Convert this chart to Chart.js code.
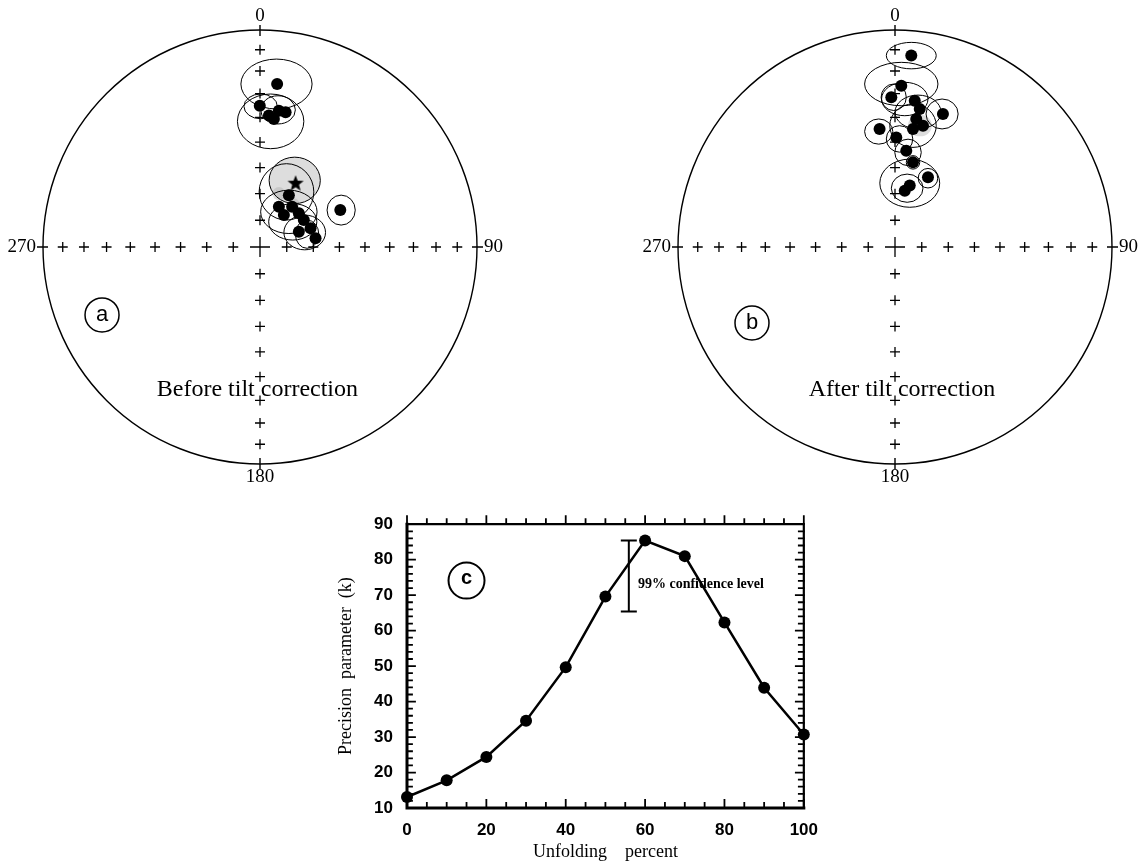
<!DOCTYPE html>
<html>
<head>
<meta charset="utf-8">
<script src="https://cdn.jsdelivr.net/npm/chart.js@4.4.0/dist/chart.umd.min.js"></script>
<style>
  html, body { margin: 0; padding: 0; background: #fff; }
  body { width: 1147px; height: 864px; position: relative; overflow: hidden; }
  canvas { position: absolute; }
  #netA { left: 0; top: 0; }
  #netB { left: 560px; top: 0; }
  #foldC { left: 330px; top: 500px; }
</style>
</head>
<body>
<canvas id="netA" width="545" height="490"></canvas>
<canvas id="netB" width="587" height="490"></canvas>
<canvas id="foldC" width="500" height="364"></canvas>
<script>
// ---- data ----
// crosses along the N-S / E-W axes, every 10 degrees of inclination
const gridInclinations = [10, 20, 30, 40, 50, 60, 70, 80];

// (a) before tilt correction: site means in equal-area net units (primitive = 1)
const siteAX = [0.079, -0.001, 0.041, 0.087, 0.064, 0.118, 0.133, 0.087, 0.148, 0.110, 0.179, 0.202, 0.233, 0.179, 0.256, 0.370];
const siteAY = [0.751, 0.651, 0.606, 0.628, 0.590, 0.621, 0.239, 0.185, 0.185, 0.147, 0.155, 0.124, 0.086, 0.070, 0.040, 0.170];
const meanA = [0.164, 0.292];
// alpha95 ovals: [x, y, rx, ry]
const ovalsA = [
  [0.076, 0.751, 0.164, 0.115],
  [0.049, 0.579, 0.153, 0.126],
  [0.003, 0.648, 0.077, 0.057],
  [0.083, 0.632, 0.080, 0.065],
  [0.160, 0.307, 0.118, 0.107],
  [0.122, 0.254, 0.126, 0.130],
  [0.133, 0.162, 0.130, 0.100],
  [0.151, 0.116, 0.111, 0.084],
  [0.206, 0.067, 0.096, 0.080],
  [0.217, 0.059, 0.054, 0.065],
  [0.374, 0.170, 0.065, 0.069]
];
const shadedA = [
  [0.160, 0.307, 0.118, 0.107],
  [0.087, 0.246, 0.030, 0.030],
  [0.156, 0.200, 0.025, 0.025]
];

// (b) after tilt correction
const siteBX = [0.075, 0.029, -0.017, 0.091, 0.114, 0.098, 0.129, 0.083, 0.221, -0.071, 0.006, 0.052, 0.083, 0.152, 0.068, 0.045];
const siteBY = [0.882, 0.743, 0.690, 0.674, 0.636, 0.590, 0.559, 0.544, 0.613, 0.544, 0.505, 0.444, 0.390, 0.321, 0.283, 0.259];
const ovalsB = [
  [0.075, 0.882, 0.115, 0.061],
  [0.029, 0.751, 0.169, 0.100],
  [0.045, 0.682, 0.107, 0.077],
  [-0.006, 0.690, 0.058, 0.061],
  [0.106, 0.622, 0.106, 0.078],
  [0.217, 0.613, 0.074, 0.069],
  [0.083, 0.559, 0.107, 0.100],
  [-0.075, 0.532, 0.065, 0.058],
  [0.021, 0.498, 0.061, 0.061],
  [0.060, 0.436, 0.061, 0.061],
  [0.083, 0.390, 0.031, 0.031],
  [0.068, 0.294, 0.138, 0.111],
  [0.056, 0.271, 0.073, 0.065],
  [0.152, 0.317, 0.045, 0.045]
];
const shadedB = [[0.115, 0.560, 0.055, 0.050]];

// (c) fold test
const unfoldingPercent = [0, 10, 20, 30, 40, 50, 60, 70, 80, 90, 100];
const precisionK = [13.1, 17.8, 24.4, 34.6, 49.7, 69.6, 85.4, 81.0, 62.3, 43.9, 30.7];
const confidenceX = 55.9;
const confidenceRange = [65.4, 85.4];

const SERIF = "'Liberation Serif', 'Times New Roman', serif";
const SANS = "'Liberation Sans', Arial, sans-serif";
Chart.defaults.color = '#000';

// equal-area (Schmidt) radial distance for an inclination
function equalArea(inc) {
  return Math.SQRT2 * Math.sin((90 - inc) / 2 * Math.PI / 180);
}

// filled five-point star used for the overall mean
const starImage = document.createElement('canvas');
starImage.width = 18; starImage.height = 18;
(function () {
  var c = starImage.getContext('2d');
  c.beginPath();
  for (var i = 0; i < 10; i++) {
    var r = i % 2 ? 3.6 : 8.5;
    var a = -Math.PI / 2 + i * Math.PI / 5;
    c.lineTo(9 + r * Math.cos(a), 9 + r * Math.sin(a));
  }
  c.closePath();
  c.fillStyle = '#000';
  c.fill();
})();

function netPlugin(cfg) {
  return {
    id: 'stereonet',
    beforeDatasetsDraw: function (chart) {
      var ctx = chart.ctx, xs = chart.scales.x, ys = chart.scales.y;
      var px = function (v) { return xs.getPixelForValue(v); };
      var py = function (v) { return ys.getPixelForValue(v); };
      var sx = px(1) - px(0), sy = py(0) - py(1);
      var ox = px(0), oy = py(0);
      ctx.save();
      ctx.strokeStyle = '#000';

      // primitive circle
      ctx.lineWidth = 1.4;
      ctx.beginPath();
      ctx.ellipse(ox, oy, sx, sy, 0, 0, 2 * Math.PI);
      ctx.stroke();

      // cardinal ticks
      ctx.beginPath();
      ctx.moveTo(ox, py(1) - 5); ctx.lineTo(ox, py(1) + 6);
      ctx.moveTo(ox, py(-1) - 6); ctx.lineTo(ox, py(-1) + 5);
      ctx.moveTo(px(-1) - 6, oy); ctx.lineTo(px(-1) + 5, oy);
      ctx.moveTo(px(1) - 5, oy); ctx.lineTo(px(1) + 6, oy);
      ctx.stroke();

      // shaded (stippled) confidence areas
      ctx.fillStyle = 'rgba(170,170,170,0.4)';
      cfg.shaded.forEach(function (o) {
        ctx.beginPath();
        ctx.ellipse(px(o[0]), py(o[1]), o[2] * sx, o[3] * sy, 0, 0, 2 * Math.PI);
        ctx.fill();
      });

      // alpha95 ovals
      ctx.lineWidth = 1;
      cfg.ovals.forEach(function (o) {
        ctx.beginPath();
        ctx.ellipse(px(o[0]), py(o[1]), o[2] * sx, o[3] * sy, 0, 0, 2 * Math.PI);
        ctx.stroke();
      });

      // azimuth labels
      ctx.fillStyle = '#000';
      ctx.font = '19px ' + SERIF;
      ctx.textAlign = 'center';
      ctx.textBaseline = 'middle';
      ctx.fillText('0', ox, py(1) - 14);
      ctx.fillText('180', ox, py(-1) + 13);
      ctx.textAlign = 'left';
      ctx.fillText('90', px(1) + 7, oy);
      ctx.textAlign = 'right';
      ctx.fillText('270', px(-1) - 7, oy);

      // panel letter
      var lx = px(cfg.letterAt[0]), ly = py(cfg.letterAt[1]);
      ctx.lineWidth = 1.5;
      ctx.beginPath();
      ctx.arc(lx, ly, 17, 0, 2 * Math.PI);
      ctx.stroke();
      ctx.textAlign = 'center';
      ctx.font = '22px ' + SANS;
      ctx.fillText(cfg.letter, lx, ly);

      // caption
      ctx.font = '24px ' + SERIF;
      ctx.fillText(cfg.caption, px(cfg.captionAt[0]), py(cfg.captionAt[1]));
      ctx.restore();
    }
  };
}

function makeNet(canvasId, geom, cfg) {
  var canvas = document.getElementById(canvasId);
  var W = canvas.width, H = canvas.height;
  var crosses = [];
  gridInclinations.forEach(function (inc) {
    var r = equalArea(inc);
    crosses.push({ x: 0, y: r }, { x: 0, y: -r }, { x: r, y: 0 }, { x: -r, y: 0 });
  });
  var sites = cfg.siteX.map(function (x, i) { return { x: x, y: cfg.siteY[i] }; });
  var datasets = [
    { data: crosses, pointStyle: 'cross', pointRadius: 5, borderColor: '#000', borderWidth: 1.3 },
    { data: [{ x: 0, y: 0 }], pointStyle: 'cross', pointRadius: 10, borderColor: '#000', borderWidth: 1.3 },
    { data: sites, pointStyle: 'circle', pointRadius: 6, backgroundColor: '#000', borderColor: '#000', borderWidth: 0 }
  ];
  if (cfg.mean) {
    datasets.push({ data: [{ x: cfg.mean[0], y: cfg.mean[1] }], pointStyle: starImage, pointRadius: 8 });
  }
  return new Chart(canvas, {
    type: 'scatter',
    data: { datasets: datasets },
    options: {
      responsive: false,
      animation: false,
      events: [],
      layout: { padding: 0, autoPadding: false },
      plugins: { legend: { display: false }, tooltip: { enabled: false } },
      scales: {
        x: { type: 'linear', display: false, min: -geom.cx / geom.r, max: (W - geom.cx) / geom.r },
        y: { type: 'linear', display: false, min: -(H - geom.cy) / geom.r, max: geom.cy / geom.r }
      }
    },
    plugins: [netPlugin(cfg)]
  });
}

makeNet('netA', { cx: 260, cy: 247, r: 217 }, {
  siteX: siteAX, siteY: siteAY, mean: meanA, ovals: ovalsA, shaded: shadedA,
  letter: 'a', letterAt: [-0.728, -0.313],
  caption: 'Before tilt correction', captionAt: [-0.012, -0.659]
});

makeNet('netB', { cx: 335, cy: 247, r: 217 }, {
  siteX: siteBX, siteY: siteBY, mean: null, ovals: ovalsB, shaded: shadedB,
  letter: 'b', letterAt: [-0.659, -0.350],
  caption: 'After tilt correction', captionAt: [0.032, -0.659]
});

// ---- (c) precision parameter vs unfolding ----
var foldPlugin = {
  id: 'foldFrame',
  beforeDatasetsDraw: function (chart) {
    var ctx = chart.ctx, a = chart.chartArea, xs = chart.scales.x, ys = chart.scales.y;
    ctx.save();
    ctx.strokeStyle = '#000';
    ctx.lineCap = 'square';
    // frame
    ctx.lineWidth = 3;
    ctx.beginPath();
    ctx.moveTo(a.left, a.top); ctx.lineTo(a.left, a.bottom); ctx.lineTo(a.right, a.bottom);
    ctx.stroke();
    ctx.lineWidth = 2.2;
    ctx.beginPath();
    ctx.moveTo(a.left, a.top); ctx.lineTo(a.right, a.top); ctx.lineTo(a.right, a.bottom);
    ctx.stroke();
    // minor / major ticks
    ctx.lineWidth = 1.8;
    ctx.beginPath();
    for (var v = 0; v <= 100; v += 5) {
      var x = xs.getPixelForValue(v), len = v % 20 === 0 ? 8 : 5;
      ctx.moveTo(x, a.bottom); ctx.lineTo(x, a.bottom - len);
      ctx.moveTo(x, a.top); ctx.lineTo(x, a.top - len);
    }
    for (var w = 10; w <= 90; w += 2) {
      var y = ys.getPixelForValue(w), ln = w % 10 === 0 ? 8 : 5;
      ctx.moveTo(a.left, y); ctx.lineTo(a.left + ln, y);
      ctx.moveTo(a.right, y); ctx.lineTo(a.right - ln, y);
    }
    ctx.stroke();
    // 99% confidence bar
    var ex = xs.getPixelForValue(confidenceX);
    var e0 = ys.getPixelForValue(confidenceRange[0]), e1 = ys.getPixelForValue(confidenceRange[1]);
    ctx.lineWidth = 2;
    ctx.lineCap = 'butt';
    ctx.beginPath();
    ctx.moveTo(ex, e0); ctx.lineTo(ex, e1);
    ctx.moveTo(ex - 8, e0); ctx.lineTo(ex + 8, e0);
    ctx.moveTo(ex - 8, e1); ctx.lineTo(ex + 8, e1);
    ctx.stroke();
    ctx.fillStyle = '#000';
    ctx.font = 'bold 14px ' + SERIF;
    ctx.textAlign = 'left';
    ctx.textBaseline = 'middle';
    ctx.fillText('99% confidence level', xs.getPixelForValue(58.2), ys.getPixelForValue(72.9));
    // panel letter
    var cx = xs.getPixelForValue(15), cy = ys.getPixelForValue(74.1);
    ctx.lineWidth = 2;
    ctx.beginPath();
    ctx.arc(cx, cy, 18, 0, 2 * Math.PI);
    ctx.stroke();
    ctx.textAlign = 'center';
    ctx.font = 'bold 20px ' + SANS;
    ctx.fillText('c', cx, cy - 2);
    ctx.restore();
  }
};

new Chart(document.getElementById('foldC'), {
  type: 'line',
  data: {
    datasets: [{
      data: unfoldingPercent.map(function (x, i) { return { x: x, y: precisionK[i] }; }),
      borderColor: '#000',
      borderWidth: 2.5,
      pointRadius: 6,
      pointBackgroundColor: '#000',
      pointBorderWidth: 0,
      tension: 0,
      clip: false
    }]
  },
  options: {
    responsive: false,
    animation: false,
    events: [],
    layout: { padding: { top: 19, right: 17, left: 0, bottom: 0 }, autoPadding: false },
    plugins: { legend: { display: false }, tooltip: { enabled: false } },
    scales: {
      x: {
        type: 'linear', min: 0, max: 100,
        afterFit: function (s) { s.height = 56; },
        grid: { display: false, drawTicks: false, tickLength: 0 },
        border: { display: false },
        ticks: { stepSize: 20, padding: 12, color: '#000', font: { family: SANS, size: 17, weight: 'bold' } },
        title: { display: true, text: 'Unfolding    percent', color: '#000', padding: { top: 0, bottom: 1 }, font: { family: SERIF, size: 18 } }
      },
      y: {
        type: 'linear', min: 10, max: 90,
        afterFit: function (s) { s.width = 77; },
        grid: { display: false, drawTicks: false, tickLength: 0 },
        border: { display: false },
        ticks: { stepSize: 10, padding: 14, color: '#000', font: { family: SANS, size: 17, weight: 'bold' } },
        title: { display: true, text: 'Precision  parameter  (k)', color: '#000', padding: { top: 5, bottom: 0 }, font: { family: SERIF, size: 18 } }
      }
    }
  },
  plugins: [foldPlugin]
});
</script>
</body>
</html>
